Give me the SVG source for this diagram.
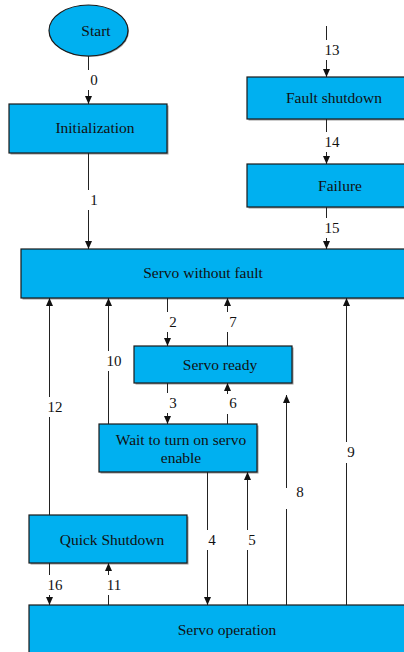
<svg xmlns="http://www.w3.org/2000/svg" width="404" height="652" viewBox="0 0 404 652">
<style>
.box{fill:#00B0F0;stroke:#1a1a1a;stroke-width:1.2}
.sh{fill:#9a9a9a}
.t{font-family:"Liberation Serif","Times New Roman",serif;font-size:15.5px;fill:#111;text-anchor:middle}
.l{font-family:"Liberation Serif","Times New Roman",serif;font-size:15px;fill:#111;text-anchor:middle}
.c{fill:none;stroke:#222;stroke-width:1}
</style>
<defs>
<marker id="ah" markerUnits="userSpaceOnUse" markerWidth="8" markerHeight="8" refX="8" refY="4" orient="auto">
<path d="M0,0.5 L8,4 L0,7.5 z" fill="#111"/>
</marker>
</defs>
<rect width="404" height="652" fill="#fff"/>
<g id="start">
<ellipse cx="89.5" cy="31.5" rx="39.5" ry="25.5" fill="#9a9a9a"/>
<ellipse cx="88.5" cy="30.5" rx="39.5" ry="25.5" class="box"/>
<text x="96" y="36" class="t">Start</text>
</g>
<g id="initialization">
<rect x="10.5" y="105.5" width="158" height="49" class="sh"/>
<rect x="9" y="104" width="158" height="49" class="box"/>
<text x="95" y="133" class="t">Initialization</text>
</g>
<g id="fault-shutdown">
<rect x="248.5" y="78.5" width="170" height="42" class="sh"/>
<rect x="247" y="77" width="170" height="42" class="box"/>
<text x="334" y="103" class="t">Fault shutdown</text>
</g>
<g id="failure">
<rect x="248.5" y="165.5" width="170" height="43" class="sh"/>
<rect x="247" y="164" width="170" height="43" class="box"/>
<text x="340" y="191" class="t">Failure</text>
</g>
<g id="servo-without-fault">
<rect x="22.5" y="250.5" width="400" height="49" class="sh"/>
<rect x="21" y="249" width="400" height="49" class="box"/>
<text x="203" y="278" class="t">Servo without fault</text>
</g>
<g id="servo-ready">
<rect x="135.5" y="347.5" width="158" height="37" class="sh"/>
<rect x="134" y="346" width="158" height="37" class="box"/>
<text x="220" y="370" class="t">Servo ready</text>
</g>
<g id="wait-enable">
<rect x="100.5" y="425.5" width="158" height="48" class="sh"/>
<rect x="99" y="424" width="158" height="48" class="box"/>
<text x="181" y="445" class="t">Wait to turn on servo</text>
<text x="181" y="463" class="t">enable</text>
</g>
<g id="quick-shutdown">
<rect x="30.5" y="516.5" width="158" height="48" class="sh"/>
<rect x="29" y="515" width="158" height="48" class="box"/>
<text x="112" y="545" class="t">Quick Shutdown</text>
</g>
<g id="servo-operation">
<rect x="30.5" y="606.5" width="400" height="60" class="sh"/>
<rect x="29" y="605" width="400" height="60" class="box"/>
<text x="227" y="635" class="t">Servo operation</text>
</g>
<g id="connectors">
<path class="c" d="M88.5 56 V70"/><path class="c" d="M88.5 90 V104" marker-end="url(#ah)"/>
<path class="c" d="M88.5 153 V190"/><path class="c" d="M88.5 210 V249" marker-end="url(#ah)"/>
<path class="c" d="M326.5 26 V40"/><path class="c" d="M326.5 60 V77" marker-end="url(#ah)"/>
<path class="c" d="M326.5 119 V132"/><path class="c" d="M326.5 152 V164" marker-end="url(#ah)"/>
<path class="c" d="M326.5 207 V218"/><path class="c" d="M326.5 238 V249" marker-end="url(#ah)"/>
<path class="c" d="M167.5 298 V312"/><path class="c" d="M167.5 332 V346" marker-end="url(#ah)"/>
<path class="c" d="M227.5 346 V332"/><path class="c" d="M227.5 312 V298" marker-end="url(#ah)"/>
<path class="c" d="M167.5 383 V393"/><path class="c" d="M167.5 413 V424" marker-end="url(#ah)"/>
<path class="c" d="M227.5 424 V414"/><path class="c" d="M227.5 394 V383" marker-end="url(#ah)"/>
<path class="c" d="M108.5 424 V371"/><path class="c" d="M108.5 351 V298" marker-end="url(#ah)"/>
<path class="c" d="M49.5 515 V417"/><path class="c" d="M49.5 397 V298" marker-end="url(#ah)"/>
<path class="c" d="M286.5 605 V509"/><path class="c" d="M286.5 488 V395" marker-end="url(#ah)"/>
<path class="c" d="M346.5 605 V463"/><path class="c" d="M346.5 442 V298" marker-end="url(#ah)"/>
<path class="c" d="M207.5 472 V530"/><path class="c" d="M207.5 550 V605" marker-end="url(#ah)"/>
<path class="c" d="M247.5 605 V550"/><path class="c" d="M247.5 530 V472" marker-end="url(#ah)"/>
<path class="c" d="M49.5 563 V575"/><path class="c" d="M49.5 595 V605" marker-end="url(#ah)"/>
<path class="c" d="M108.5 605 V595"/><path class="c" d="M108.5 575 V563" marker-end="url(#ah)"/>
</g>
<g id="labels">
<text x="94" y="85" class="l">0</text>
<text x="94" y="205" class="l">1</text>
<text x="332" y="55" class="l">13</text>
<text x="332" y="147" class="l">14</text>
<text x="332" y="233" class="l">15</text>
<text x="173" y="327" class="l">2</text>
<text x="233" y="327" class="l">7</text>
<text x="173" y="408" class="l">3</text>
<text x="233" y="408" class="l">6</text>
<text x="114" y="366" class="l">10</text>
<text x="55" y="412" class="l">12</text>
<text x="300" y="497" class="l">8</text>
<text x="351" y="457" class="l">9</text>
<text x="212" y="545" class="l">4</text>
<text x="252" y="545" class="l">5</text>
<text x="55" y="590" class="l">16</text>
<text x="114" y="590" class="l">11</text>
</g>
</svg>
